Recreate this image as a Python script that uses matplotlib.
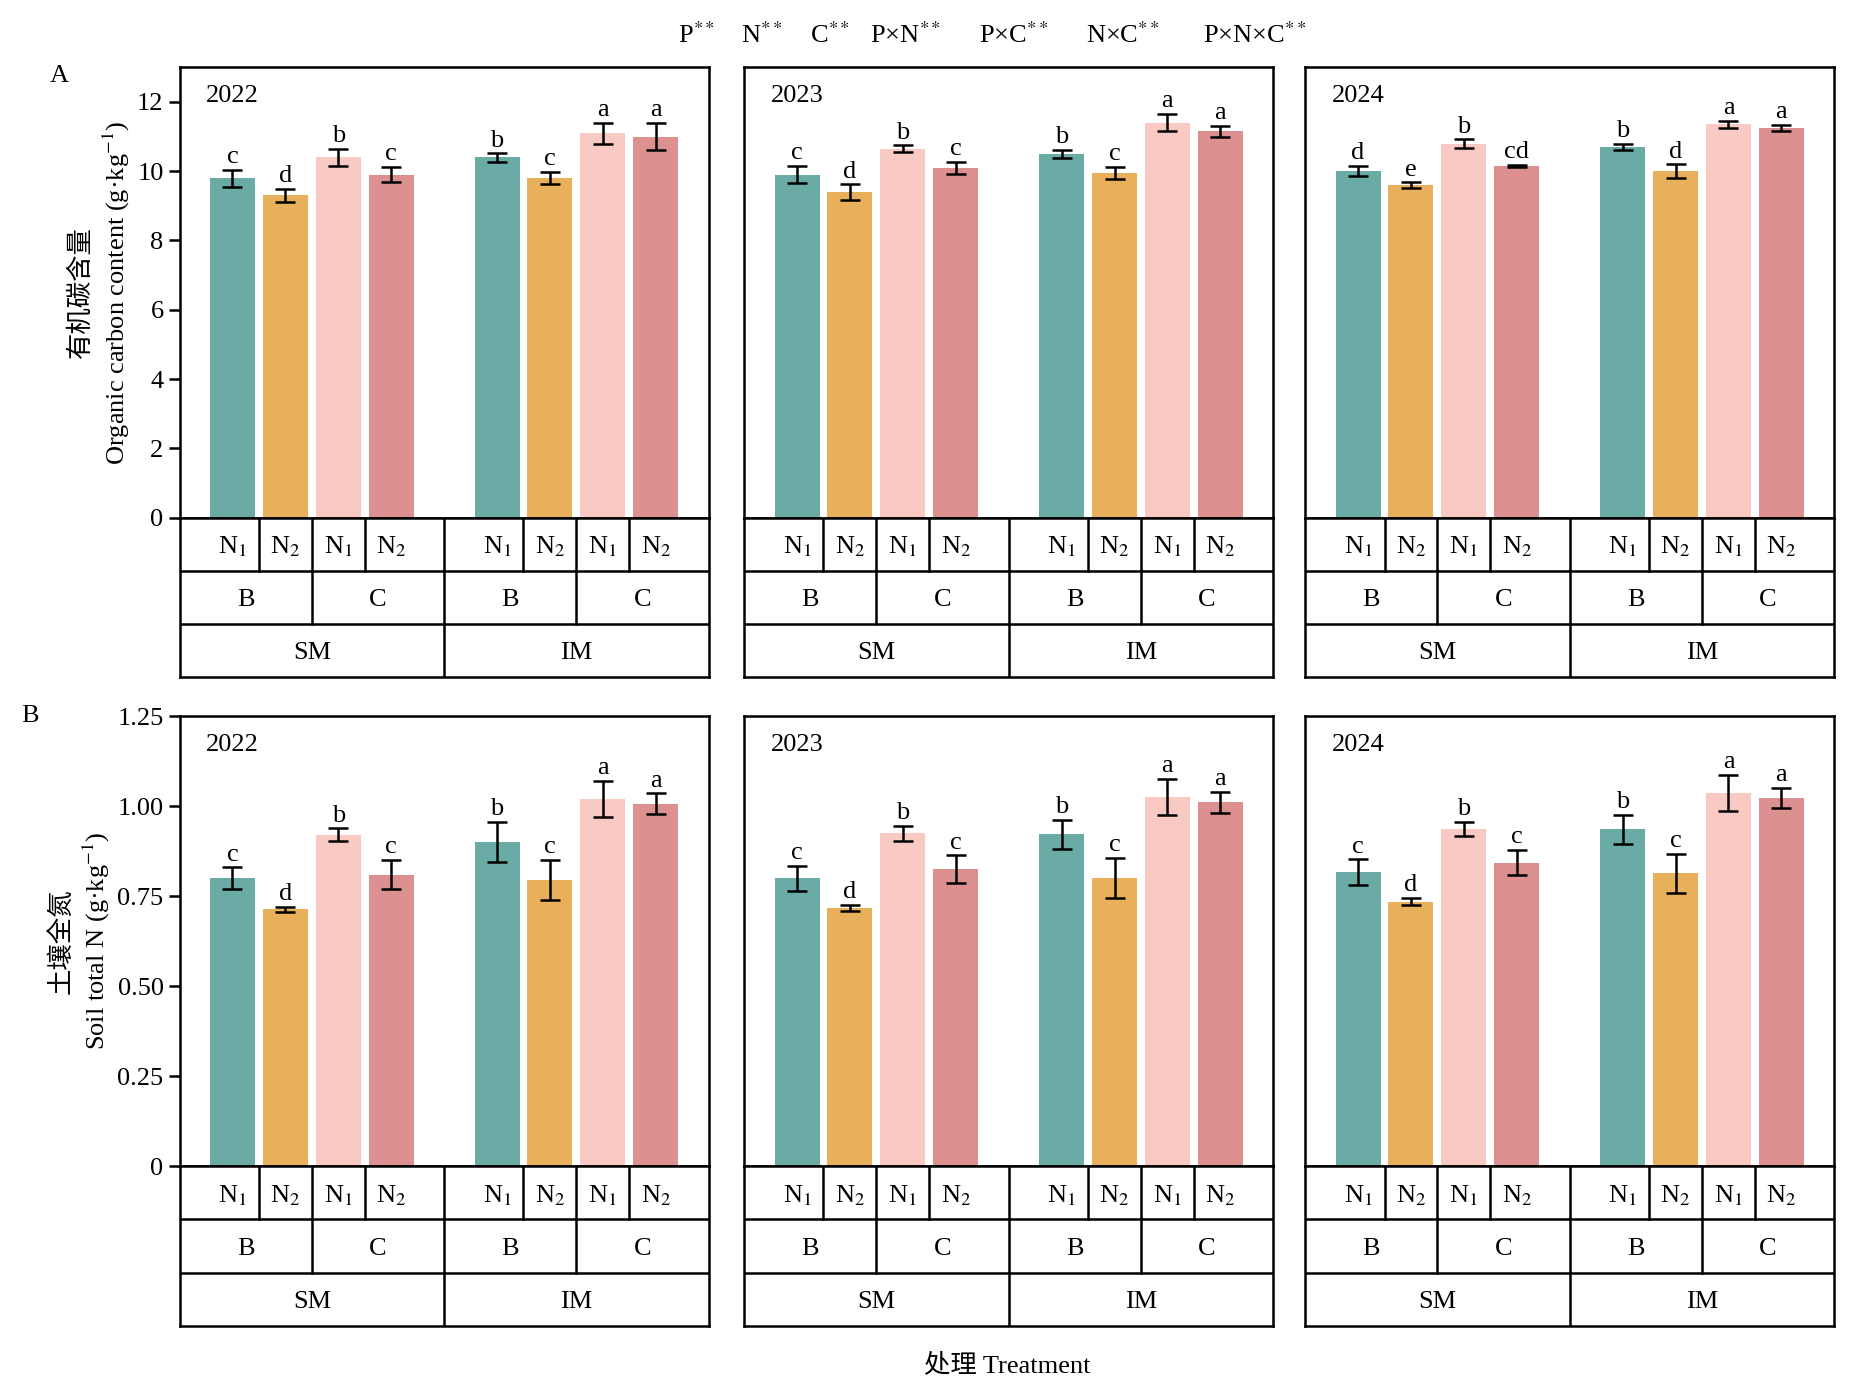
import matplotlib
matplotlib.use("Agg")
import matplotlib.pyplot as plt
import numpy as np

plt.rcParams['font.family'] = ['Liberation Serif', 'Noto Sans CJK SC']
plt.rcParams['mathtext.fontset'] = 'stix'

years = ['2022', '2023', '2024']
colors = ['#6aaba6', '#e8b05a', '#f9c9c4', '#dc9090']
xpos = [1, 2, 3, 4, 6, 7, 8, 9]

soc_vals = {
    '2022': [9.8, 9.3, 10.4, 9.9, 10.4, 9.8, 11.1, 11.0],
    '2023': [9.9, 9.4, 10.65, 10.1, 10.5, 9.95, 11.4, 11.15],
    '2024': [10.0, 9.6, 10.8, 10.15, 10.7, 10.0, 11.35, 11.25],
}
soc_err = {
    '2022': [0.25, 0.2, 0.25, 0.22, 0.12, 0.18, 0.3, 0.4],
    '2023': [0.25, 0.22, 0.1, 0.18, 0.12, 0.18, 0.25, 0.15],
    '2024': [0.15, 0.08, 0.12, 0.04, 0.1, 0.2, 0.1, 0.08],
}
soc_let = {
    '2022': ['c', 'd', 'b', 'c', 'b', 'c', 'a', 'a'],
    '2023': ['c', 'd', 'b', 'c', 'b', 'c', 'a', 'a'],
    '2024': ['d', 'e', 'b', 'cd', 'b', 'd', 'a', 'a'],
}
tn_vals = {
    '2022': [0.80, 0.713, 0.92, 0.81, 0.90, 0.795, 1.02, 1.007],
    '2023': [0.80, 0.718, 0.924, 0.825, 0.922, 0.80, 1.025, 1.01],
    '2024': [0.817, 0.735, 0.937, 0.843, 0.935, 0.813, 1.037, 1.023],
}
tn_err = {
    '2022': [0.03, 0.008, 0.018, 0.04, 0.055, 0.055, 0.05, 0.028],
    '2023': [0.035, 0.008, 0.02, 0.038, 0.04, 0.055, 0.05, 0.03],
    '2024': [0.035, 0.01, 0.02, 0.035, 0.04, 0.055, 0.05, 0.028],
}
tn_let = {
    '2022': ['c', 'd', 'b', 'c', 'b', 'c', 'a', 'a'],
    '2023': ['c', 'd', 'b', 'c', 'b', 'c', 'a', 'a'],
    '2024': ['c', 'd', 'b', 'c', 'b', 'c', 'a', 'a'],
}
row1 = ['N$_1$', 'N$_2$'] * 4
row2 = ['B', 'C', 'B', 'C']
row3 = ['SM', 'IM']

W, H = 1568.0, 1184.0
fig = plt.figure(figsize=(18.52, 13.99), dpi=100)
lefts = [152, 630, 1105]
aw = 448
FS = 19

def table(ax):
    ax.set_xlim(0, 10); ax.set_ylim(3, 0)
    ax.set_xticks([]); ax.set_yticks([])
    for s in ax.spines.values():
        s.set_linewidth(1.8)
    for y in [1, 2]:
        ax.plot([0, 10], [y, y], color='k', lw=1.8)
    for x in [1.5, 2.5, 3.5, 5, 6.5, 7.5, 8.5]:
        ax.plot([x, x], [0, 1], color='k', lw=1.8)
    for x in [2.5, 5, 7.5]:
        ax.plot([x, x], [1, 2], color='k', lw=1.8)
    ax.plot([5, 5], [2, 3], color='k', lw=1.8)
    for x, t in zip(xpos, row1):
        ax.text(x, 0.55, t, ha='center', va='center', fontsize=FS)
    for x, t in zip([1.25, 3.75, 6.25, 8.75], row2):
        ax.text(x, 1.55, t, ha='center', va='center', fontsize=FS)
    for x, t in zip([2.5, 7.5], row3):
        ax.text(x, 2.55, t, ha='center', va='center', fontsize=FS)

def panel(top, vals, errs, lets, ylim, yticks, fmt, ylabel, off):
    for i, (l, yr) in enumerate(zip(lefts, years)):
        ax = fig.add_axes([l / W, 1 - (top + 381) / H, aw / W, 381 / H])
        ax.bar(xpos, vals[yr], width=0.85, color=colors * 2)
        ax.errorbar(xpos, vals[yr], yerr=errs[yr], fmt='none', ecolor='k',
                    elinewidth=1.8, capsize=7, capthick=1.8)
        for x, v, e, t in zip(xpos, vals[yr], errs[yr], lets[yr]):
            ax.text(x, v + e + off, t, ha='center', va='bottom', fontsize=FS)
        ax.set_xlim(0, 10); ax.set_ylim(*ylim)
        ax.set_xticks([])
        ax.text(0.05, 0.96, yr, transform=ax.transAxes, ha='left', va='top', fontsize=FS)
        for s in ax.spines.values():
            s.set_linewidth(1.8)
        if i == 0:
            ax.set_yticks(yticks)
            ax.set_yticklabels([fmt.format(v) for v in yticks], fontsize=FS)
            ax.tick_params(axis='y', width=1.8, length=8)
            ax.set_ylabel(ylabel, fontsize=FS, linespacing=1.3)
        else:
            ax.set_yticks([])
        tax = fig.add_axes([l / W, 1 - (top + 381 + 135) / H, aw / W, 135 / H])
        table(tax)

panel(57, soc_vals, soc_err, soc_let, (0, 13), [0, 2, 4, 6, 8, 10, 12], '{:.0f}',
      '有机碳含量\nOrganic carbon content (g·kg$^{-1}$)', 0.05)
panel(606, tn_vals, tn_err, tn_let, (0, 1.25), [0, 0.25, 0.5, 0.75, 1.0, 1.25], '{:.2f}',
      '土壤全氮\nSoil total N (g·kg$^{-1}$)', 0.005)
fig.axes[0].set_yticklabels(['0', '2', '4', '6', '8', '10', '12'], fontsize=FS)
fig.axes[6].set_yticklabels(['0', '0.25', '0.50', '0.75', '1.00', '1.25'], fontsize=FS)

fig.text(42 / W, 1 - 64 / H, 'A', fontsize=FS, ha='left', va='center')
fig.text(18 / W, 1 - 606 / H, 'B', fontsize=FS, ha='left', va='center')
sig = ['P$^{**}$', 'N$^{**}$', 'C$^{**}$', 'P×N$^{**}$', 'P×C$^{**}$', 'N×C$^{**}$', 'P×N×C$^{**}$']
sx = [590, 645, 703, 767, 858, 951, 1062]
for x, t in zip(sx, sig):
    fig.text(x / W, 1 - 30 / H, t, fontsize=FS, ha='center', va='center')
fig.text(853 / W, 1 - 1155 / H, '处理 Treatment', fontsize=FS, ha='center', va='center')

fig.savefig('out.png', dpi=100)
